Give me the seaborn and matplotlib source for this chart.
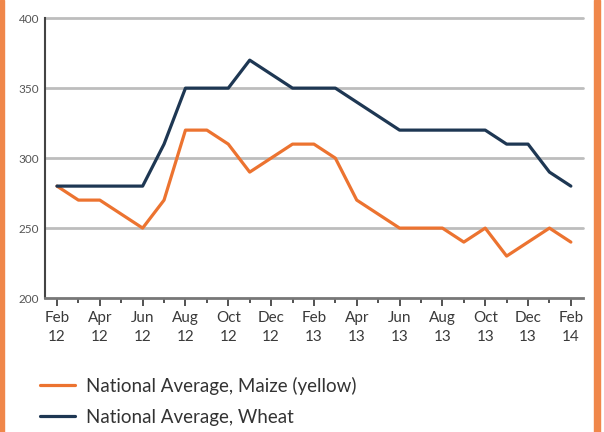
import pandas as pd
import matplotlib.pyplot as plt
import matplotlib.patches as mpatches
from matplotlib.lines import Line2D
import seaborn as sns

# 数据：2012年2月到2014年2月的月度价格
months = ['Feb 12', 'Mar 12', 'Apr 12', 'May 12', 'Jun 12', 'Jul 12', 'Aug 12', 'Sep 12',
          'Oct 12', 'Nov 12', 'Dec 12', 'Jan 13', 'Feb 13', 'Mar 13', 'Apr 13', 'May 13',
          'Jun 13', 'Jul 13', 'Aug 13', 'Sep 13', 'Oct 13', 'Nov 13', 'Dec 13', 'Jan 14', 'Feb 14']
maize = [280, 270, 270, 260, 250, 270, 320, 320, 310, 290, 300, 310, 310, 300, 270, 260,
         250, 250, 250, 240, 250, 230, 240, 250, 240]
wheat = [280, 280, 280, 280, 280, 310, 350, 350, 350, 370, 360, 350, 350, 350, 340, 330,
         320, 320, 320, 320, 320, 310, 310, 290, 280]
tick_labels = ['Feb\n12', 'Apr\n12', 'Jun\n12', 'Aug\n12', 'Oct\n12', 'Dec\n12', 'Feb\n13',
               'Apr\n13', 'Jun\n13', 'Aug\n13', 'Oct\n13', 'Dec\n13', 'Feb\n14']
series_names = ['National Average, Maize (yellow)', 'National Average, Wheat']
colors = ['#ec7330', '#1e3753']

sns.set_style('white', {'xtick.bottom': True})
plt.rcParams['font.family'] = ['Lato', 'DejaVu Sans']

df = pd.DataFrame({'idx': list(range(len(months))) * 2,
                   'price': maize + wheat,
                   'series': [series_names[0]] * len(maize) + [series_names[1]] * len(wheat)})

fig = plt.figure(figsize=(6.04, 4.32), dpi=100)
ax = fig.add_axes([0.0745, 0.31, 0.8905, 0.648])
sns.lineplot(data=df, x='idx', y='price', hue='series', palette=colors, linewidth=2.3,
             legend=False, ax=ax)

ax.set_xlim(-0.56, 24.56)
ax.set_ylim(200, 400)
ax.set_yticks([200, 250, 300, 350, 400])
ax.set_xticks(range(0, 25, 2))
ax.set_xticklabels(tick_labels)
ax.set_xticks(range(1, 25, 2), minor=True)
ax.set_xlabel('')
ax.set_ylabel('')
for y in [250, 300, 350, 400]:
    ax.axhline(y, color='#bdbdbd', linewidth=2, zorder=0, clip_on=False)
ax.tick_params(axis='x', which='major', bottom=True, direction='out', length=6, width=1.3,
               color='#444444', labelsize=11, labelcolor='#3a3a3a', pad=3)
ax.tick_params(axis='x', which='minor', bottom=True, direction='out', length=3.5, width=1.3,
               color='#444444')
ax.tick_params(axis='y', length=0, labelsize=8.5, labelcolor='#555555', pad=4)
for t in ax.get_xticklabels():
    t.set_linespacing(1.45)
sns.despine(ax=ax, top=True, right=True)
ax.spines['left'].set_color('#444444')
ax.spines['left'].set_linewidth(1.5)
ax.spines['bottom'].set_color('#777777')
ax.spines['bottom'].set_linewidth(2)

handles = [Line2D([], [], color=c, linewidth=2.3) for c in colors]
fig.legend(handles, series_names, loc='upper left', bbox_to_anchor=(0.066, 0.128),
           frameon=False, fontsize=13.5, handlelength=1.9, handletextpad=0.55,
           labelspacing=0.75, labelcolor='#333333', borderaxespad=0, borderpad=0)

# 左右两侧的橙色边框
fig.patches.append(mpatches.Rectangle((0, 0), 0.006, 1, transform=fig.transFigure,
                                      color='#f0874a', zorder=0))
fig.patches.append(mpatches.Rectangle((0.983, 0), 0.011, 1, transform=fig.transFigure,
                                      color='#f0874a', zorder=0))

fig.savefig('out.png', dpi=100)
